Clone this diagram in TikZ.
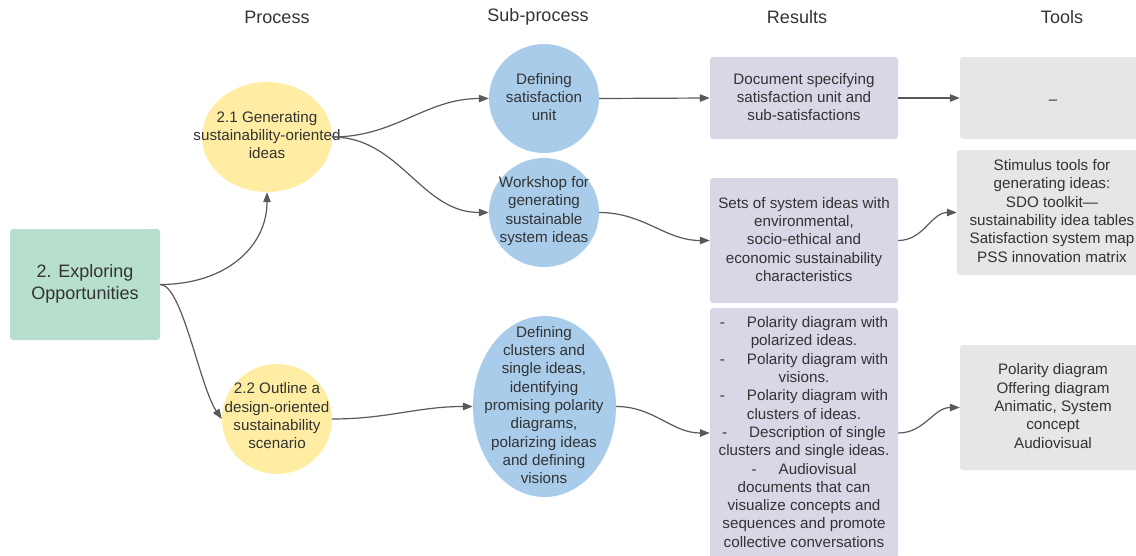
\documentclass[tikz,border=0pt]{standalone}
\usepackage{fontspec}
\setmainfont{Liberation Sans}
\usetikzlibrary{shapes.geometric,arrows.meta}
\definecolor{txt}{HTML}{333333}
\definecolor{linec}{HTML}{595959}
\definecolor{grn}{HTML}{B7DFCD}
\definecolor{yel}{HTML}{FFEDA3}
\definecolor{blu}{HTML}{A9CCEA}
\definecolor{lav}{HTML}{D9D6E6}
\definecolor{gry}{HTML}{E6E6E6}
\begin{document}
\begin{tikzpicture}[x=1pt,y=-1pt,
  body/.style={font=\fontsize{15.2}{18.3}\selectfont, text=txt, align=center, inner sep=0pt},
  head/.style={font=\fontsize{18}{22}\selectfont, text=txt, inner sep=0pt},
  ell/.style={ellipse, inner sep=0pt, draw=none},
  box/.style={rectangle, rounded corners=3pt, inner sep=0pt, draw=none},
  conn/.style={draw=linec, line width=1.2pt, -{Triangle[length=10pt,width=7.5pt]}}]
\useasboundingbox (0,0) rectangle (1136,555);
% headers
\node[head] (h1) at (277,17) {Process};
\node[head] (h2) at (538,17) {Sub-process};
\node[head] (h3) at (797,17) {Results};
\node[head] (h4) at (1062,17) {Tools};
% process
\node[box, fill=grn, minimum width=150pt, minimum height=111pt] (g) at (85,284.5) {};
\node[head, align=center] (gt) at (85,284) {2. Exploring\\Opportunities};
\node[ell, fill=yel, minimum width=130pt, minimum height=110pt] (p1) at (267,137) {};
\node[body] (p1t) at (267,135) {2.1 Generating\\sustainability-oriented\\ideas};
\node[ell, fill=yel, minimum width=110pt, minimum height=110pt] (p2) at (277,419) {};
\node[body] (p2t) at (277,416) {2.2 Outline a\\design-oriented\\sustainability\\scenario};
% sub-process
\node[ell, fill=blu, minimum width=110pt, minimum height=109pt] (s1) at (544,98.5) {};
\node[body] (s1t) at (544,97) {Defining\\satisfaction\\unit};
\node[ell, fill=blu, minimum width=110pt, minimum height=109pt] (s2) at (544,212.5) {};
\node[body] (s2t) at (544,211) {Workshop for\\generating\\sustainable\\system ideas};
\node[ell, fill=blu, minimum width=143pt, minimum height=181pt] (s3) at (544.5,406.5) {};
\node[body] (s3t) at (544,405) {Defining\\clusters and\\single ideas,\\identifying\\promising polarity\\diagrams,\\polarizing ideas\\and defining\\visions};
% results
\node[box, fill=lav, minimum width=188pt, minimum height=82pt] (r1) at (804,98) {};
\node[body] (r1t) at (804,97) {Document specifying\\satisfaction unit and\\sub-satisfactions};
\node[box, fill=lav, minimum width=188pt, minimum height=125pt] (r2) at (804,240.5) {};
\node[body] (r2t) at (804,239.5) {Sets of system ideas with\\environmental,\\socio-ethical and\\economic sustainability\\characteristics};
\node[box, fill=lav, minimum width=188pt, minimum height=250pt] (r3) at (804,433) {};
\node[body] (r3t) at (804,432) {-\hspace{22pt}Polarity diagram with\\polarized ideas.\\-\hspace{22pt}Polarity diagram with\\visions.\\-\hspace{22pt}Polarity diagram with\\clusters of ideas.\\-\hspace{22pt}Description of single\\clusters and single ideas.\\-\hspace{22pt}Audiovisual\\documents that can\\visualize concepts and\\sequences and promote\\collective conversations};
% tools
\node[box, fill=gry, minimum width=185pt, minimum height=82pt] (t1) at (1052.5,98) {};
\node[body] (t1t) at (1053,102) {–};
\node[box, fill=gry, minimum width=188pt, minimum height=125pt] (t2) at (1051,212.5) {};
\node[body] (t2t) at (1052,211) {Stimulus tools for\\generating ideas:\\SDO toolkit—\\sustainability idea tables\\Satisfaction system map\\PSS innovation matrix};
\node[box, fill=gry, minimum width=185pt, minimum height=125pt] (t3) at (1052.5,407.5) {};
\node[body] (t3t) at (1053,406) {Polarity diagram\\Offering diagram\\Animatic, System\\concept\\Audiovisual};
% connectors
\draw[conn] (g.east) .. controls +(65,0) and +(0,55) .. (p1.south);
\draw[conn] (g.east) .. controls +(22,0) and +(-22,-32) .. (p2.west);
\draw[conn] (p1.east) to[out=0,in=180] (s1.west);
\draw[conn] (p1.east) to[out=0,in=180] (s2.west);
\draw[conn] (p2.east) to[out=0,in=180] (s3.west);
\draw[conn] (s1.east) -- (r1.west);
\draw[conn] (s2.east) to[out=0,in=180] (r2.west);
\draw[conn] (s3.east) to[out=0,in=180] (r3.west);
\draw[conn] (r1.east) -- (t1.west);
\draw[conn] (r2.east) to[out=0,in=180] (t2.west);
\draw[conn] (r3.east) to[out=0,in=180] (t3.west);
\end{tikzpicture}
\end{document}
